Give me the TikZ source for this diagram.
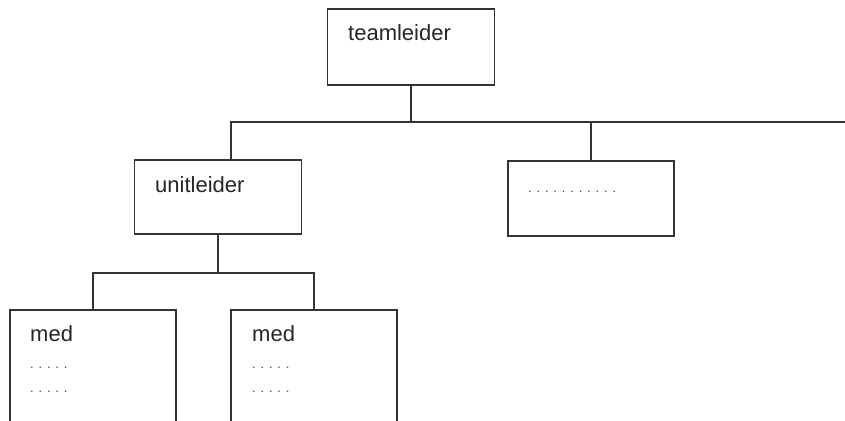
\documentclass[tikz,border=0pt]{standalone}
\usepackage{fontspec}
\setmainfont{Liberation Sans}
\begin{document}
\begin{tikzpicture}[x=1pt,y=-1pt,
  box/.style={draw=black!80, line width=1.6pt, fill=white, rectangle, inner sep=0pt},
  conn/.style={draw=black!80, line width=1.6pt},
  lbl/.style={anchor=base west, inner sep=0pt, font=\fontsize{22}{24}\selectfont, text=black!85},
  dotlbl/.style={anchor=base west, inner sep=0pt, font=\fontsize{13}{14}\selectfont, text=black!70}]
\useasboundingbox (0,0) rectangle (845,420);
\clip (0,0) rectangle (845,420);
% boxes
\node[box, minimum width=167pt, minimum height=76pt] (team) at (411,47) {};
\node[box, minimum width=167pt, minimum height=74pt] (unit) at (218,197) {};
\node[box, minimum width=166pt, minimum height=75pt] (third) at (591,198.5) {};
\node[box, minimum width=166pt, minimum height=130pt] (med1) at (93,375) {};
\node[box, minimum width=166pt, minimum height=130pt] (med2) at (314,375) {};
% connectors
\coordinate (busL) at (231,122);
\coordinate (busR) at (850,122);
\draw[conn] (team.south) -- (team.south |- busL);
\draw[conn] (unit.north -| busL) -- (busL) -- (busR);
\draw[conn] (third.north |- busL) -- (third.north);
\draw[conn] (unit.south) -- ++(0,38) coordinate (lb);
\draw[conn] (med1.north) -- (med1.north |- lb) -- (med2.north |- lb) -- (med2.north);
% texts
\node[lbl] (tTeam) at (348,40.5) {teamleider};
\node[lbl] (tUnit) at (155,192) {unitleider};
\node[dotlbl] (tDots) at (528,192) {. . . . . . . . . . .};
\node[lbl] (tMed1) at (30,341) {med};
\node[dotlbl] (tMed1a) at (30,368.5) {. . . . .};
\node[dotlbl] (tMed1b) at (30,392.5) {. . . . .};
\node[lbl] (tMed2) at (252,341) {med};
\node[dotlbl] (tMed2a) at (252,368.5) {. . . . .};
\node[dotlbl] (tMed2b) at (252,392.5) {. . . . .};
\end{tikzpicture}
\end{document}
